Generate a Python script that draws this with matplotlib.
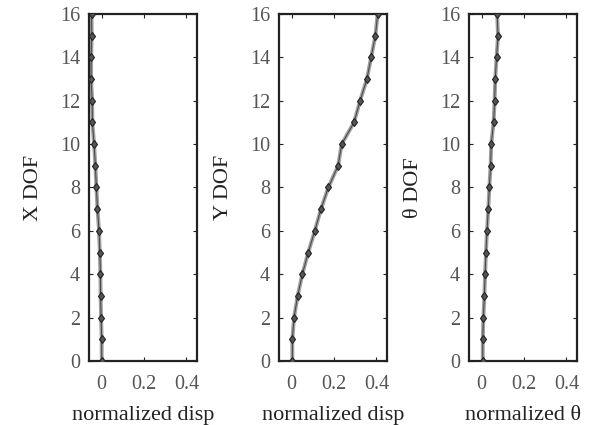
import numpy as np
import matplotlib
matplotlib.use('Agg')
import matplotlib.pyplot as plt

plt.rcParams['font.family'] = ['Liberation Serif', 'DejaVu Serif']

# degree of freedom index (floor level)
dof = list(range(17))

# normalized mode shape values
x_disp = [0.0, 0.0, -0.003, -0.005, -0.006, -0.009, -0.0125, -0.02, -0.025,
          -0.03, -0.036, -0.044, -0.045, -0.05, -0.05, -0.047, -0.048]
y_disp = [0.003, 0.003, 0.011, 0.028, 0.05, 0.078, 0.109, 0.138, 0.173,
          0.219, 0.236, 0.294, 0.323, 0.355, 0.375, 0.395, 0.406]
theta = [0.005, 0.005, 0.008, 0.0125, 0.016, 0.02, 0.025, 0.031, 0.036,
         0.042, 0.045, 0.056, 0.061, 0.064, 0.07, 0.077, 0.073]

series = [x_disp, y_disp, theta]
ylabels = ['X DOF', 'Y DOF', '\u03b8 DOF']
xlabels = ['normalized disp', 'normalized disp', 'normalized \u03b8']

fig = plt.figure(figsize=(6.01, 4.25), dpi=100)
lefts = [89, 279, 469]

for i in range(3):
    ax = fig.add_axes([lefts[i] / 601, 1 - 361 / 425, 108 / 601, 347 / 425])
    ax.plot(series[i], dof, color='#a0a0a0', lw=2.8, zorder=2)
    ax.plot(series[i], dof, color='#444444', lw=0.7, marker='d', ms=4.5,
            mfc='#555555', mec='#222222', mew=0.8, zorder=3)
    ax.set_xlim(-0.06, 0.45)
    ax.set_ylim(0, 16)
    ax.set_xticks([0, 0.2, 0.4])
    ax.set_xticklabels(['0', '0.2', '0.4'])
    ax.set_yticks(range(0, 17, 2))
    ax.tick_params(direction='in', top=True, right=True, length=3,
                   labelsize=14.5, labelcolor='#555555', color='#222222')
    ax.tick_params(axis='x', pad=10)
    ax.tick_params(axis='y', pad=6.5)
    for s in ax.spines.values():
        s.set_linewidth(1.6)
        s.set_color('#222222')
    ax.set_ylabel(ylabels[i], fontsize=16, color='#222222', labelpad=12)
    ax.set_xlabel(xlabels[i], fontsize=16, color='#222222', labelpad=9)

fig.savefig('out.png', dpi=100)
